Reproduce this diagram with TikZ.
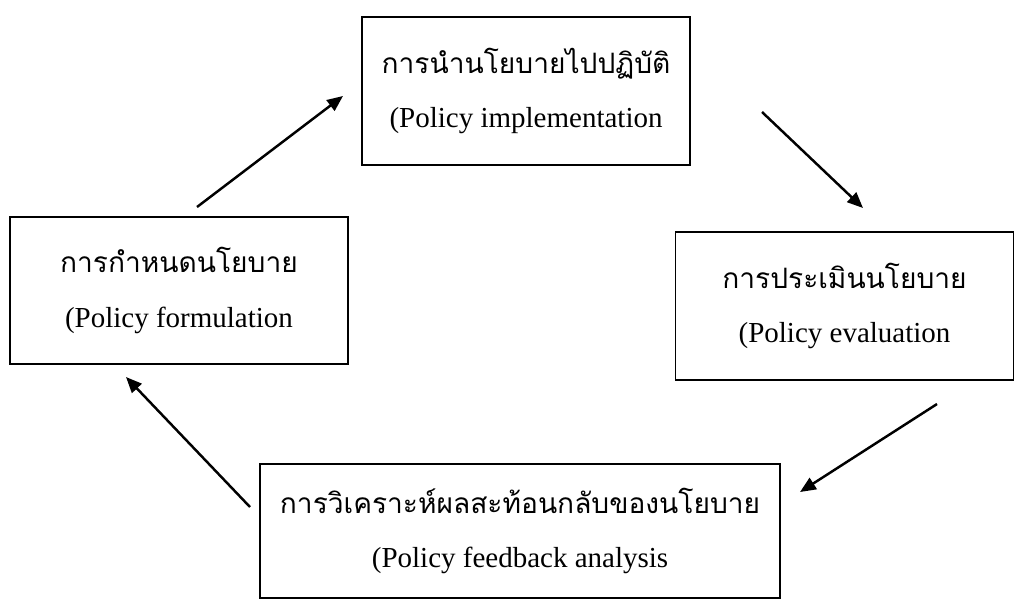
\documentclass[tikz,border=0pt]{standalone}
\usepackage{fontspec}
\setmainfont{Liberation Serif}
\newfontfamily\thaifont[Script=Thai]{Loma}
\usetikzlibrary{arrows.meta,positioning}
\tikzset{
  line/.style={-{Triangle[length=9pt,width=7.5pt]}, line width=1.4pt},
  box/.style={draw, line width=1.1pt, align=center, inner sep=3pt,
    font=\fontsize{16.5}{19}\selectfont},
  stagebox/.style={box, minimum width=#1, minimum height=29.6mm},
  stagebox/.default=66mm
}
\newcommand{\stagetext}[2]{{\thaifont\fontsize{16}{19}\selectfont #1}\\[12pt](#2}

\begin{document}
\begin{tikzpicture}[x=0.2mm, y=-0.2mm]
  \useasboundingbox (0,0) rectangle (1015,608);
  \node[stagebox=65.6mm] (impl) at (526,91)
    {\stagetext{การนำนโยบายไปปฏิบัติ}{Policy implementation}};
  \node[stagebox=67.6mm, minimum height=29.4mm] (form) at (179,290.5)
    {\stagetext{การกำหนดนโยบาย}{Policy formulation}};
  \node[stagebox=67.6mm] (eval) at (844.5,306)
    {\stagetext{การประเมินนโยบาย}{Policy evaluation}};
  \node[stagebox=104mm, minimum height=26.8mm] (fb) at (520,531)
    {\stagetext{การวิเคราะห์ผลสะท้อนกลับของนโยบาย}{Policy feedback analysis}};
  % free ends of the arrows
  \coordinate (a1) at (197,207);
  \coordinate (b1) at (343,96);
  \coordinate (a2) at (762,112);
  \coordinate (b2) at (863,208);
  \coordinate (a3) at (937,404);
  \coordinate (b3) at (800,492);
  \coordinate (a4) at (250,507);
  \coordinate (b4) at (126,377);
  \draw[line] (a1) -- (b1);
  \draw[line] (a2) -- (b2);
  \draw[line] (a3) -- (b3);
  \draw[line] (a4) -- (b4);
\end{tikzpicture}
\end{document}
